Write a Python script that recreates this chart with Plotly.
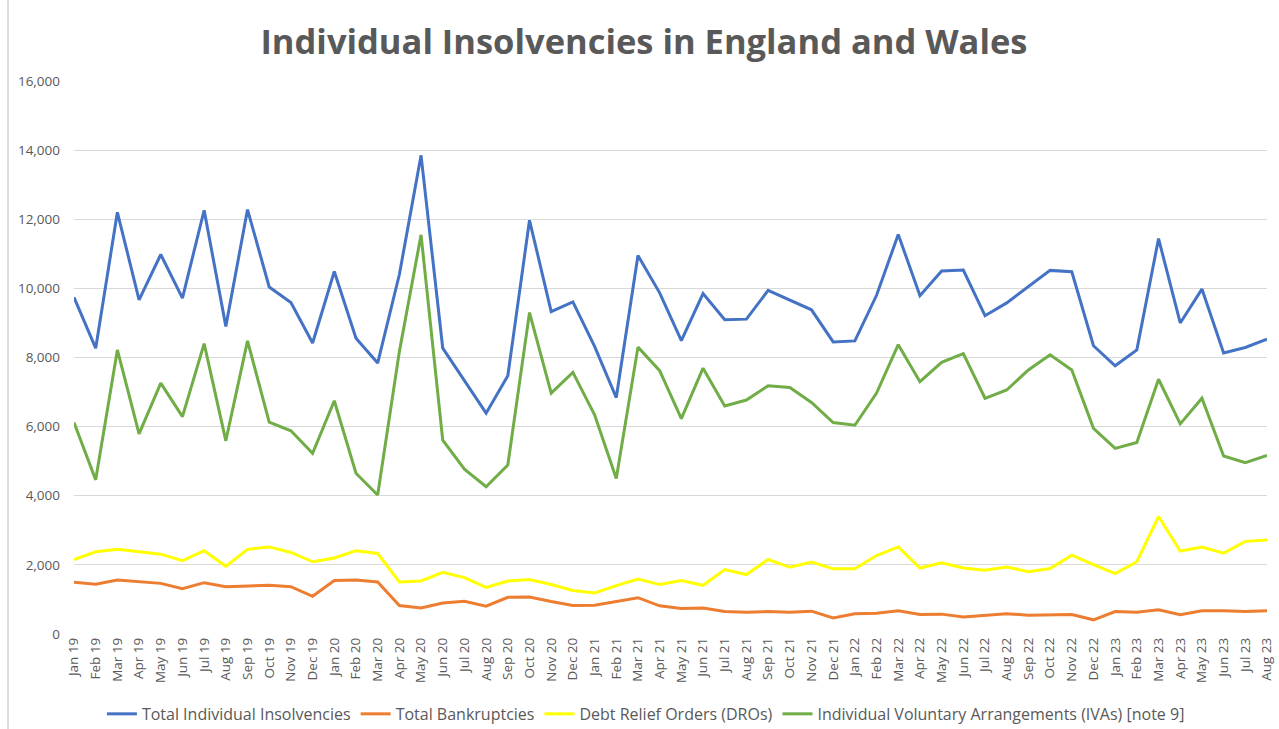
import plotly.graph_objects as go

# Monthly series, Jan 2019 - Aug 2023
months = [
    "Jan 19", "Feb 19", "Mar 19", "Apr 19", "May 19", "Jun 19", "Jul 19", "Aug 19", "Sep 19", "Oct 19", "Nov 19", "Dec 19",
    "Jan 20", "Feb 20", "Mar 20", "Apr 20", "May 20", "Jun 20", "Jul 20", "Aug 20", "Sep 20", "Oct 20", "Nov 20", "Dec 20",
    "Jan 21", "Feb 21", "Mar 21", "Apr 21", "May 21", "Jun 21", "Jul 21", "Aug 21", "Sep 21", "Oct 21", "Nov 21", "Dec 21",
    "Jan 22", "Feb 22", "Mar 22", "Apr 22", "May 22", "Jun 22", "Jul 22", "Aug 22", "Sep 22", "Oct 22", "Nov 22", "Dec 22",
    "Jan 23", "Feb 23", "Mar 23", "Apr 23", "May 23", "Jun 23", "Jul 23", "Aug 23",
]

total_insolvencies = [
    9740, 8270, 12200, 9670, 10980, 9720, 12260, 8900, 12280, 10040, 9590, 8420,
    10490, 8560, 7840, 10400, 13850, 8270, 7330, 6390, 7470, 11970, 9330, 9610,
    8320, 6840, 10950, 9870, 8490, 9850, 9090, 9110, 9940, 9670, 9380, 8450,
    8480, 9800, 11560, 9790, 10500, 10530, 9210, 9580, 10040, 10520, 10480, 8340,
    7760, 8220, 11440, 9000, 9980, 8130, 8290, 8530,
]

total_bankruptcies = [
    1495, 1440, 1560, 1515, 1465, 1310, 1485, 1370, 1380, 1410, 1370, 1090,
    1550, 1560, 1505, 825, 750, 895, 950, 805, 1060, 1070, 940, 825,
    835, 940, 1050, 815, 740, 750, 650, 630, 650, 630, 660, 465,
    585, 600, 670, 565, 575, 495, 545, 585, 545, 545, 565, 410,
    650, 630, 700, 555, 670, 670, 650, 670,
]

debt_relief_orders = [
    2155, 2380, 2450, 2390, 2310, 2120, 2410, 1960, 2450, 2520, 2360, 2090,
    2200, 2410, 2330, 1505, 1535, 1785, 1630, 1350, 1535, 1575, 1430, 1260,
    1185, 1400, 1590, 1430, 1545, 1410, 1865, 1720, 2155, 1930, 2080, 1885,
    1885, 2270, 2520, 1910, 2060, 1910, 1845, 1940, 1805, 1895, 2280, 2010,
    1750, 2090, 3400, 2400, 2515, 2340, 2680, 2720,
]

iva = [
    6120, 4460, 8220, 5790, 7260, 6290, 8400, 5590, 8480, 6130, 5880, 5230,
    6750, 4650, 4020, 8170, 11550, 5610, 4770, 4260, 4890, 9300, 6970, 7570,
    6340, 4500, 8300, 7620, 6230, 7690, 6600, 6770, 7180, 7130, 6700, 6120,
    6040, 6970, 8370, 7300, 7860, 8110, 6820, 7060, 7640, 8080, 7640, 5950,
    5370, 5540, 7370, 6080, 6820, 5150, 4960, 5170,
]

series = [
    ("Total Individual Insolvencies", total_insolvencies, "#4472C4"),
    ("Total Bankruptcies", total_bankruptcies, "#ED7D31"),
    ("Debt Relief Orders (DROs)", debt_relief_orders, "#FFFF00"),
    ("Individual Voluntary Arrangements (IVAs) [note 9]", iva, "#70AD47"),
]

y_ticks = [0, 2000, 4000, 6000, 8000, 10000, 12000, 14000, 16000]

fig = go.Figure()
for name, values, colour in series:
    fig.add_trace(go.Scatter(
        x=months, y=values, name=name, mode="lines",
        line=dict(color=colour, width=3),
    ))

grey = "#595959"
font_family = "'Open Sans', Lato, sans-serif"

fig.update_layout(
    width=1279, height=729,
    margin=dict(l=74, r=12, t=81, b=95),
    paper_bgcolor="white", plot_bgcolor="white",
    font=dict(family=font_family, color=grey),
    title=dict(
        text="<b>Individual Insolvencies in England and Wales</b>",
        x=0.5035, xanchor="center", y=0.942, yanchor="middle",
        font=dict(size=34.5, color=grey, family=font_family),
    ),
    showlegend=True,
    legend=dict(
        orientation="h", xref="container", yref="container",
        x=0.505, xanchor="center", y=0.044, yanchor="top",
        font=dict(size=16, color=grey), itemwidth=30, tracegroupgap=0,
    ),
    xaxis=dict(
        type="category", range=[0, len(months) - 1],
        showgrid=False, showline=False, zeroline=False,
        tickangle=-90, tickfont=dict(size=13.5, color=grey),
        ticks="", automargin=False,
    ),
    yaxis=dict(
        range=[0, 16000], tickvals=y_ticks, tickformat=",d",
        showgrid=True, gridcolor="#D9D9D9", gridwidth=1,
        zeroline=False, showline=False,
        tickfont=dict(size=13.5, color=grey),
        ticklabelstandoff=13, automargin=False,
    ),
    shapes=[dict(
        type="line", xref="paper", yref="paper",
        x0=-0.0553, x1=-0.0553, y0=-0.2, y1=1.16,
        line=dict(color="#D0D0D0", width=1.5),
    )],
)

fig.write_html("out.html")
